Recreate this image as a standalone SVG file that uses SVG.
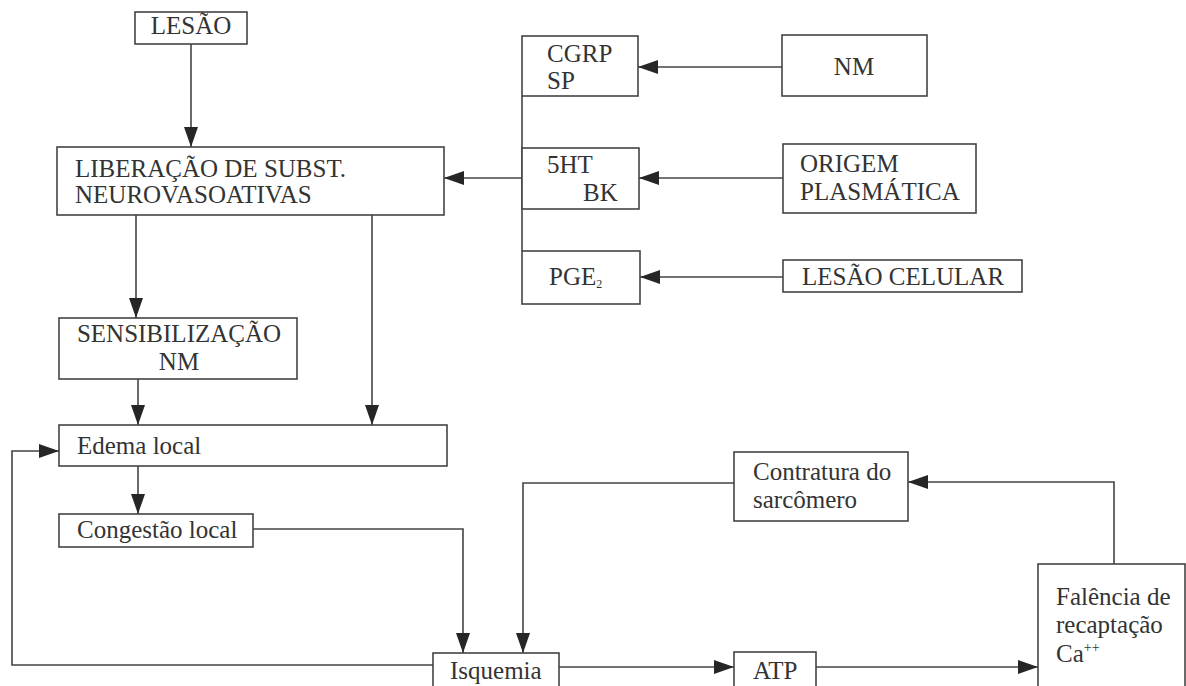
<svg xmlns="http://www.w3.org/2000/svg" width="1186" height="686" viewBox="0 0 1186 686">
<style>
.box{fill:#fff;stroke:#444;stroke-width:1.6}
.t{font-family:"Liberation Serif","Times New Roman",serif;font-size:25px;fill:#333}
.c{text-anchor:middle}
.ln{fill:none;stroke:#444;stroke-width:1.6}
</style>
<defs>
<marker id="ah" markerUnits="userSpaceOnUse" markerWidth="22" markerHeight="16" refX="20" refY="8" orient="auto">
<path d="M0,1 L20,8 L0,15 z" fill="#262626"/>
</marker>
</defs>
<rect width="1186" height="686" fill="#fff"/>
<g id="connectors">
<path class="ln" d="M191,44 V147" marker-end="url(#ah)"/>
<path class="ln" d="M522,96 V251"/>
<path class="ln" d="M522,178 H444" marker-end="url(#ah)"/>
<path class="ln" d="M782,67 H638" marker-end="url(#ah)"/>
<path class="ln" d="M783,178 H639" marker-end="url(#ah)"/>
<path class="ln" d="M783,277 H640" marker-end="url(#ah)"/>
<path class="ln" d="M136,215 V318" marker-end="url(#ah)"/>
<path class="ln" d="M372,215 V425" marker-end="url(#ah)"/>
<path class="ln" d="M138,379 V425" marker-end="url(#ah)"/>
<path class="ln" d="M138,466 V514" marker-end="url(#ah)"/>
<path class="ln" d="M253,529 H463 V653" marker-end="url(#ah)"/>
<path class="ln" d="M433,665 H12 V451 H59" marker-end="url(#ah)"/>
<path class="ln" d="M734,483 H523 V653" marker-end="url(#ah)"/>
<path class="ln" d="M559,667 H734" marker-end="url(#ah)"/>
<path class="ln" d="M816,667 H1038" marker-end="url(#ah)"/>
<path class="ln" d="M1114,564 V482 H908" marker-end="url(#ah)"/>
</g>
<g id="lesao"><rect class="box" x="135" y="12" width="112" height="32"/><text class="t c" x="191" y="34">LESÃO</text></g>
<g id="liberacao"><rect class="box" x="57" y="147" width="387" height="68"/><text class="t" x="75" y="177">LIBERAÇÃO DE SUBST.</text><text class="t" x="75" y="203">NEUROVASOATIVAS</text></g>
<g id="cgrp"><rect class="box" x="522" y="36" width="116" height="60"/><text class="t" x="547" y="62">CGRP</text><text class="t" x="547" y="89">SP</text></g>
<g id="5ht"><rect class="box" x="522" y="148" width="117" height="61"/><text class="t" x="547" y="173">5HT</text><text class="t" x="583" y="201">BK</text></g>
<g id="pge2"><rect class="box" x="522" y="251" width="118" height="53"/><text class="t" x="549" y="285">PGE<tspan font-size="12" dy="3">2</tspan></text></g>
<g id="nm"><rect class="box" x="782" y="35" width="145" height="61"/><text class="t c" x="854" y="75">NM</text></g>
<g id="origem"><rect class="box" x="783" y="144" width="193" height="69"/><text class="t" x="800" y="172">ORIGEM</text><text class="t" x="800" y="200">PLASMÁTICA</text></g>
<g id="lesaocelular"><rect class="box" x="783" y="260" width="239" height="32"/><text class="t" x="802" y="285">LESÃO CELULAR</text></g>
<g id="sensibilizacao"><rect class="box" x="59" y="318" width="238" height="61"/><text class="t c" x="179" y="342">SENSIBILIZAÇÃO</text><text class="t c" x="179" y="370">NM</text></g>
<g id="edema"><rect class="box" x="59" y="425" width="388" height="41"/><text class="t" x="77" y="454">Edema local</text></g>
<g id="congestao"><rect class="box" x="59" y="514" width="194" height="33"/><text class="t" x="77" y="538">Congestão local</text></g>
<g id="contratura"><rect class="box" x="734" y="452" width="174" height="69"/><text class="t" x="753" y="480">Contratura do</text><text class="t" x="753" y="508">sarcômero</text></g>
<g id="isquemia"><rect class="box" x="433" y="653" width="126" height="40"/><text class="t" x="450" y="679">Isquemia</text></g>
<g id="atp"><rect class="box" x="734" y="652" width="82" height="40"/><text class="t" x="753" y="679">ATP</text></g>
<g id="falencia"><rect class="box" x="1038" y="564" width="147" height="130"/><text class="t" x="1056" y="605">Falência de</text><text class="t" x="1056" y="633">recaptação</text><text class="t" x="1056" y="662">Ca<tspan font-size="14" dy="-10">++</tspan></text></g>
</svg>
